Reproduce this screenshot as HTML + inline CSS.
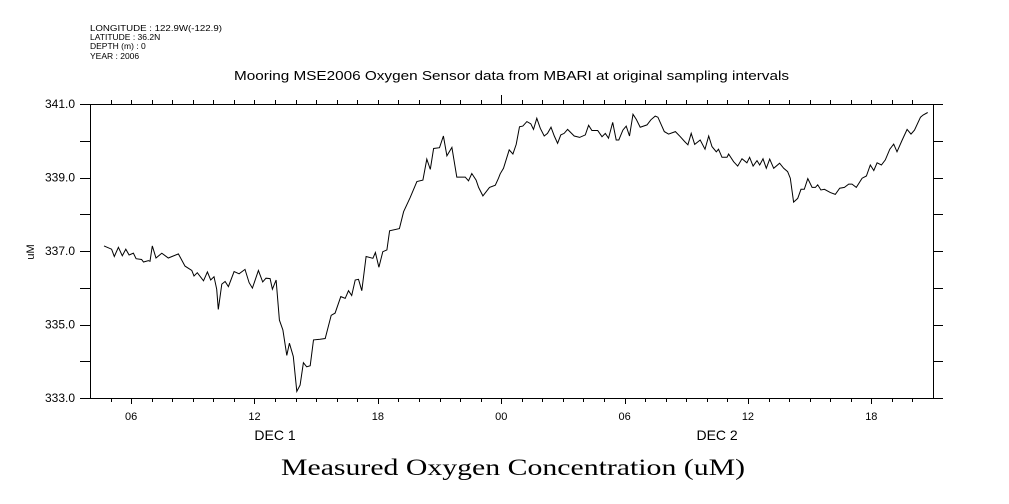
<!DOCTYPE html>
<html><head><meta charset="utf-8"><style>
body{margin:0;background:#fff;}
svg{display:block;font-family:"Liberation Sans",sans-serif;}
</style></head><body>
<svg id="chart" width="1009" height="504" viewBox="0 0 1009 504">
<g font-size="8.5" fill="#000">
<text x="90" y="31" textLength="132" lengthAdjust="spacingAndGlyphs">LONGITUDE : 122.9W(-122.9)</text>
<text x="90" y="40">LATITUDE : 36.2N</text>
<text x="90" y="49">DEPTH (m) : 0</text>
<text x="90" y="59">YEAR : 2006</text>
</g>
<text x="234" y="80" textLength="555" lengthAdjust="spacingAndGlyphs" font-size="12.5">Mooring MSE2006 Oxygen Sensor data from MBARI at original sampling intervals</text>
<text x="281" y="475" textLength="464" lengthAdjust="spacingAndGlyphs" font-size="23" font-family="Liberation Serif, serif">Measured Oxygen Concentration (uM)</text>
<text transform="translate(34,252) rotate(-90)" text-anchor="middle" font-size="11">uM</text>
<g id="axes"></g>
<path id="line" fill="none" stroke="#000" stroke-width="1"></path>
</svg>
<script>
const times = [4.68,5.05,5.18,5.38,5.57,5.74,5.90,6.11,6.24,6.51,6.60,6.84,6.92,7.03,7.21,7.49,7.81,8.30,8.62,8.95,9.06,9.22,9.52,9.71,9.87,10.03,10.16,10.24,10.41,10.57,10.73,11.01,11.25,11.54,11.74,11.90,12.19,12.40,12.56,12.76,12.87,13.05,13.21,13.38,13.57,13.70,13.89,14.06,14.22,14.38,14.54,14.71,14.87,15.19,15.44,15.73,15.92,16.20,16.41,16.57,16.73,16.90,17.06,17.22,17.43,17.76,17.88,18.05,18.24,18.44,18.57,19.05,19.25,19.57,19.90,20.19,20.38,20.55,20.71,21.00,21.19,21.36,21.60,21.84,22.25,22.41,22.57,22.78,22.90,23.11,23.43,23.71,23.87,
23.95,24.11,24.39,24.57,24.73,24.89,25.05,25.25,25.44,25.57,25.73,25.90,26.09,26.25,26.42,26.58,26.74,26.90,27.06,27.23,27.55,27.81,28.09,28.25,28.41,28.69,28.90,29.06,29.22,29.42,29.59,29.72,29.92,30.08,30.24,30.41,30.57,30.76,31.09,31.28,31.49,31.62,31.93,32.14,32.47,32.71,32.92,33.08,33.24,33.41,33.68,33.91,34.09,34.25,34.46,34.57,34.74,34.98,35.06,35.30,35.50,35.71,35.95,36.08,36.25,36.44,36.57,36.73,36.89,37.06,37.25,37.54,37.74,37.93,38.06,38.22,38.42,38.58,38.74,38.91,39.12,39.28,39.39,39.55,39.72,40.01,40.25,40.46,40.69,40.90,41.06,41.27,41.55,41.76,41.95,42.12,42.28,42.49,42.68,42.90,43.09,43.25,43.50,43.74,43.93,44.10,44.39,44.52,44.74];
const oxygen = [337.14,337.05,336.85,337.10,336.87,337.05,336.89,336.94,336.79,336.77,336.70,336.74,336.72,337.14,336.81,336.94,336.81,336.92,336.59,336.47,336.32,336.41,336.19,336.43,336.21,336.30,335.96,335.41,336.10,336.17,336.03,336.44,336.38,336.50,336.14,335.99,336.47,336.16,336.26,336.25,335.96,336.21,335.12,334.85,334.16,334.49,334.13,333.18,333.35,333.96,333.85,333.88,334.58,334.60,334.62,335.25,335.31,335.76,335.71,335.92,335.79,336.21,336.23,335.92,336.85,336.80,336.96,336.56,336.98,337.03,337.55,337.61,338.07,338.45,338.89,338.93,339.50,339.22,339.79,339.81,340.13,339.59,339.82,339.01,339.01,338.91,339.11,338.93,338.73,338.50,338.73,338.79,338.98,
339.10,339.25,339.75,339.64,339.90,340.38,340.40,340.52,340.46,340.31,340.61,340.34,340.13,340.20,340.37,340.13,339.93,340.16,340.20,340.31,340.13,340.09,340.16,340.42,340.28,340.28,340.11,340.20,340.07,340.50,340.02,340.02,340.29,340.40,340.13,340.72,340.58,340.37,340.43,340.57,340.67,340.64,340.25,340.18,340.25,340.11,339.98,339.89,340.20,339.90,340.02,339.77,340.13,339.84,339.70,339.77,339.55,339.55,339.64,339.43,339.31,339.51,339.40,339.55,339.31,339.46,339.34,339.51,339.25,339.50,339.25,339.39,339.25,339.16,338.98,338.33,338.43,338.68,338.68,338.97,338.73,338.73,338.80,338.66,338.68,338.59,338.54,338.71,338.73,338.82,338.82,338.73,338.98,339.04,339.34,339.19,339.40,339.34,339.48,339.77,339.91,339.70,340.02,340.31,340.18,340.29,340.64,340.70,340.77];
const yTicks = [333,335,337,339,341];
const yTickLabels = ["333.0","335.0","337.0","339.0","341.0"];
const xTickHours = [6,12,18,24,30,36,42];
const xTickLabels = ["06","12","18","00","06","12","18"];
const dayLabels = ["DEC  1","DEC  2"];
const dayHours = [13,34.5];

const L=90,R=933,T=104,B=398,H0=4,H1=45,V0=333,V1=341;
const xs=h=>L+(h-H0)/(H1-H0)*(R-L);
const ys=v=>B-(v-V0)/(V1-V0)*(B-T);
const NS='http://www.w3.org/2000/svg';
const ax=document.getElementById('axes');
function ln(x1,y1,x2,y2,name){const e=document.createElementNS(NS,'line');
e.setAttribute('x1',x1);e.setAttribute('y1',y1);e.setAttribute('x2',x2);e.setAttribute('y2',y2);
e.setAttribute('stroke','#000');e.setAttribute('stroke-width','1');


ax.appendChild(e);return e;}
function tx(x,y,s,anchor,size,name){const e=document.createElementNS(NS,'text');
e.setAttribute('x',x);e.setAttribute('y',y);e.setAttribute('text-anchor',anchor);e.setAttribute('font-size',size);e.textContent=s;


ax.appendChild(e);return e;}
ln(L+.5,T,L+.5,B+.5,'y-axis-left');
ln(R+.5,T,R+.5,B+.5,'y-axis-right');
ln(L,T+.5,R+1,T+.5,'x-axis-top');
ln(L,B+.5,R+1,B+.5,'x-axis-bottom');
for(let v=V0;v<=V1;v+=1){const y=Math.round(ys(v))+.5;
ln(80,y,L,y,'y-tick-left');ln(R,y,943,y,'y-tick-right');}
yTicks.forEach((v,i)=>tx(75,ys(v)+4,yTickLabels[i],'end',12,'y-tick-label'));
for(let h=H0+1;h<H1;h++){const x=Math.round(xs(h))+.5;
ln(x,T-(h===24?9:4),x,T,'x-tick-top');ln(x,B,x,B+(h%6===0?6:4),'x-tick-bottom');}
xTickHours.forEach((h,i)=>tx(xs(h),B+22,xTickLabels[i],'middle',11,'x-tick-label'));
dayHours.forEach((h,i)=>tx(xs(h),B+42,dayLabels[i],'middle',14,'day-label'));
let d='';times.forEach((h,i)=>{d+=(i?'L':'M')+xs(h).toFixed(1)+' '+ys(oxygen[i]).toFixed(1);});
document.getElementById('line').setAttribute('d',d);
</script>
</body></html>
